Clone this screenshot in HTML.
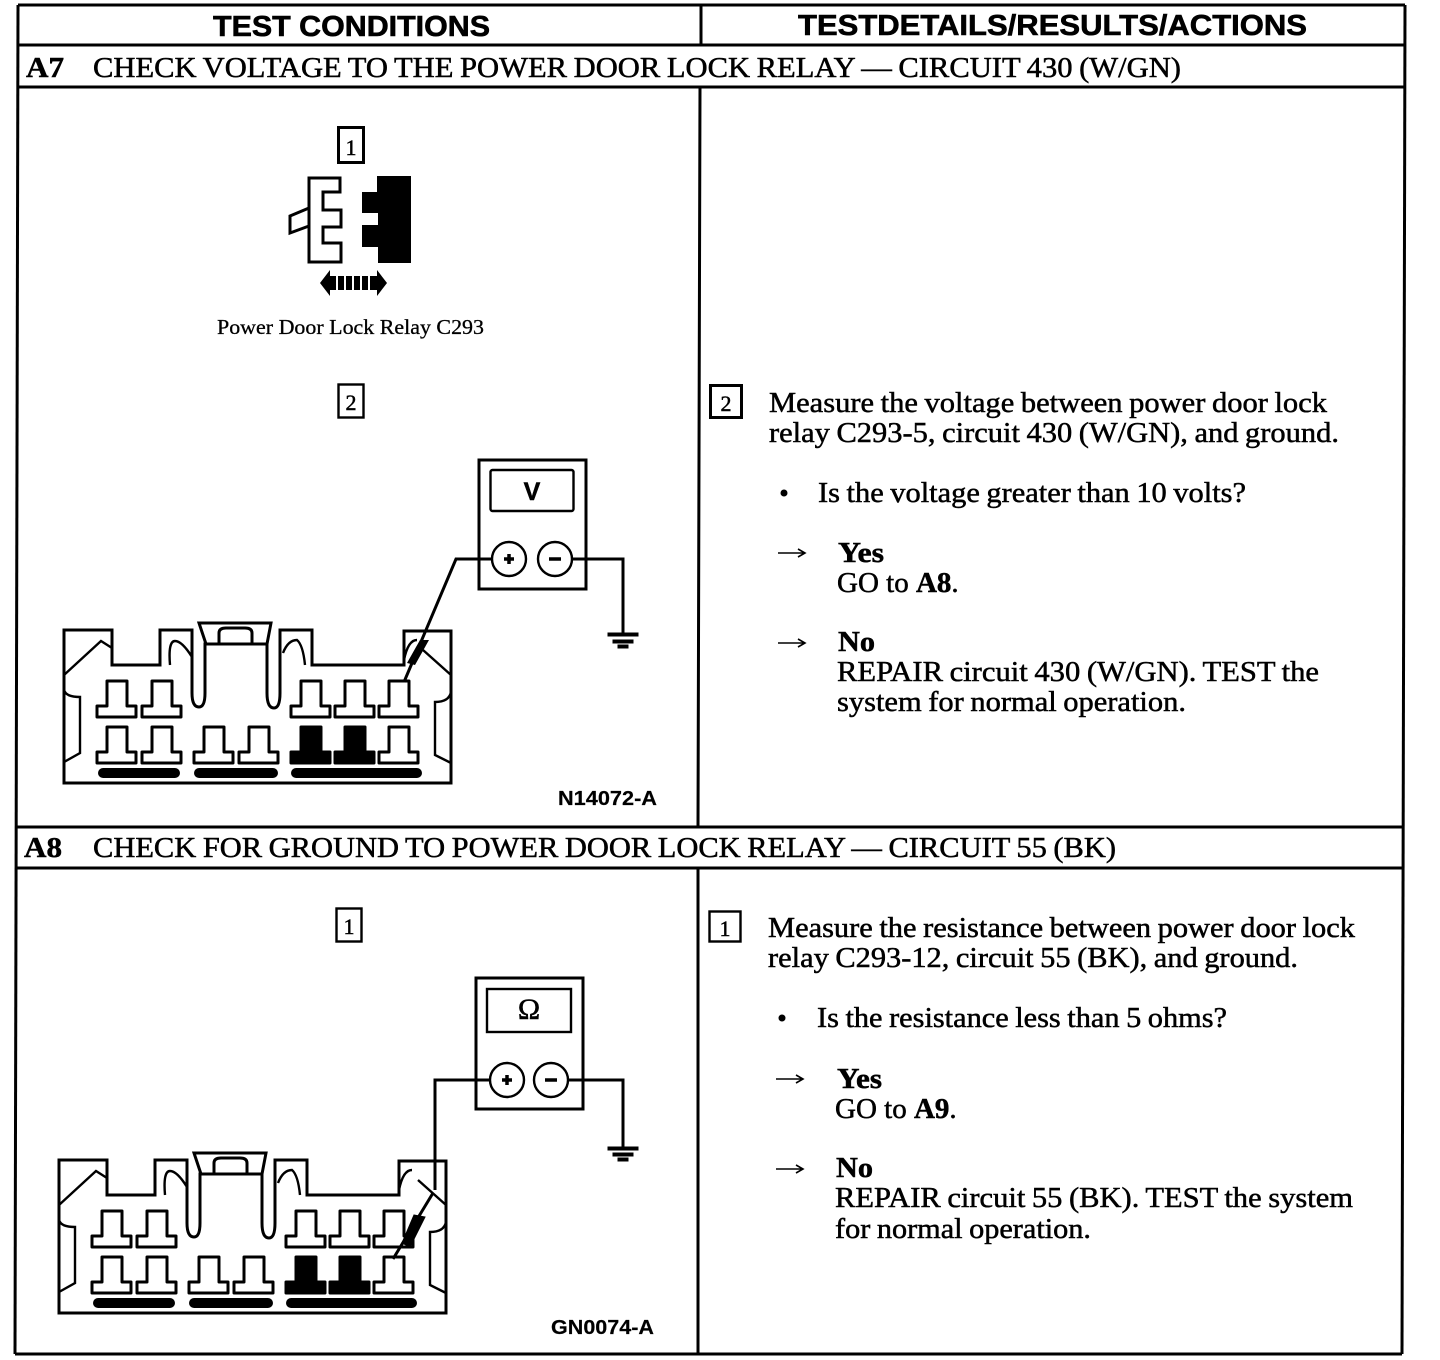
<!DOCTYPE html>
<html><head><meta charset="utf-8"><style>
html,body{margin:0;padding:0;background:#fff}
svg{display:block}
text{fill:#000;font-family:"Liberation Serif",serif;stroke:#000;stroke-width:.5px}
.h{font-family:"Liberation Sans",sans-serif;font-weight:700;font-size:29px;stroke-width:.6px}
.s{font-size:29px;word-spacing:-1px}
.b{font-size:29px;font-weight:700}
.t{font-size:29px;word-spacing:-1px}
.c{font-family:"Liberation Sans",sans-serif;font-weight:700;font-size:20px;stroke-width:.2px}
.v{font-family:"Liberation Sans",sans-serif;font-weight:700;font-size:25px}
.d{font-size:22px}
.l{fill:none;stroke:#000;stroke-width:3}
.m{fill:none;stroke:#000;stroke-width:2.4}
.a{fill:none;stroke:#000;stroke-width:1.6}
.p{fill:#fff;stroke:#000;stroke-width:3;stroke-linejoin:round}
.f{fill:#000;stroke:#000;stroke-width:3;stroke-linejoin:round}
</style></head><body>
<svg width="1440" height="1360" viewBox="0 0 1440 1360" xmlns="http://www.w3.org/2000/svg">
<defs>
<path id="pin" d="M10 0H30V25H39V36H0V25H10Z"/>
<g id="conn">
<path class="l" d="M64 630H112V665H160V630H192V693Q192 707 199 707Q205 707 205 693V644H267V693Q267 708 274 708Q280 708 280 693V630H312V665H404V631H451V783H64Z"/>
<path class="l" d="M206 644L199 623H271L267 644M219 644V633Q219 628 226 628H245Q252 628 252 633V644"/>
<path class="m" d="M64 675L101 641L112 648M170 665Q168 641 175 641Q182 641 192 657M283 653Q288 640 297 640Q303 645 305 665M451 675L423 650M404 660Q408 640 417 640"/>
<path class="m" d="M64 690Q66 697 80 697V753L64 762M451 692Q449 702 435 702V755L451 763"/>
<use href="#pin" class="p" x="97" y="681"/><use href="#pin" class="p" x="142" y="681"/>
<use href="#pin" class="p" x="291" y="681"/><use href="#pin" class="p" x="335" y="681"/><use href="#pin" class="p" x="379" y="681"/>
<use href="#pin" class="p" x="97" y="727"/><use href="#pin" class="p" x="142" y="727"/>
<use href="#pin" class="p" x="194" y="727"/><use href="#pin" class="p" x="239" y="727"/>
<use href="#pin" class="f" x="291" y="727"/><use href="#pin" class="f" x="335" y="727"/><use href="#pin" class="p" x="379" y="727"/>
<rect x="98" y="768" width="82" height="10" rx="5"/><rect x="194" y="768" width="84" height="10" rx="5"/><rect x="291" y="768" width="131" height="10" rx="5"/>
</g>
</defs>

<!-- table -->
<g fill="none" stroke="#000" stroke-width="3">
<path d="M18 5H1405"/><path d="M18 45H1405"/><path d="M18 87H1404"/>
<path d="M16 827H1403"/><path d="M16 868H1403"/><path d="M15 1354H1402"/>
<path d="M18 5L15 1354"/><path d="M1405 5L1402 1354"/>
<path d="M701 5V45M700 87L698 827M698 868V1354"/>
</g>

<text class="h" x="213" y="36" textLength="277" lengthAdjust="spacingAndGlyphs">TEST CONDITIONS</text>
<text class="h" x="798" y="35" textLength="509" lengthAdjust="spacingAndGlyphs">TESTDETAILS/RESULTS/ACTIONS</text>

<text class="b" x="26" y="77" textLength="38" lengthAdjust="spacingAndGlyphs">A7</text>
<text class="s" x="93" y="77" textLength="1088" lengthAdjust="spacingAndGlyphs">CHECK VOLTAGE TO THE POWER DOOR LOCK RELAY — CIRCUIT 430 (W/GN)</text>
<text class="b" x="24" y="857" textLength="38" lengthAdjust="spacingAndGlyphs">A8</text>
<text class="s" x="93" y="857" textLength="1023" lengthAdjust="spacingAndGlyphs">CHECK FOR GROUND TO POWER DOOR LOCK RELAY — CIRCUIT 55 (BK)</text>

<!-- A7 left -->
<rect x="338.500" y="127.500" width="25" height="35" class="l"/>
<text class="d" x="351" y="155" text-anchor="middle">1</text>
<path class="l" d="M309 178H340V192H323V210H341V227H323V243H341V262H309Z"/>
<path class="l" d="M309 208L290 216V233L309 226"/>
<path d="M377 176H411V263H378V247H362V225H378V213H362V192H377Z"/>
<path d="M320 283L330 270V296ZM387 283L377 270V296Z"/>
<rect x="330" y="276" width="6" height="14"/><rect x="338" y="276" width="6" height="14"/><rect x="346" y="276" width="6" height="14"/><rect x="354" y="276" width="6" height="14"/><rect x="362" y="276" width="6" height="14"/><rect x="370" y="276" width="7" height="14"/>
<text x="217" y="334" font-size="21" textLength="267" lengthAdjust="spacingAndGlyphs" style="stroke-width:.3px">Power Door Lock Relay C293</text>

<rect x="338.500" y="384.500" width="25" height="33" class="m"/>
<text class="d" x="351" y="410" text-anchor="middle">2</text>

<use href="#conn"/>
<rect x="479" y="460" width="107" height="129" class="l"/>
<rect x="490.500" y="470" width="83" height="41" rx="2" class="m"/>
<text class="v" x="532" y="500" text-anchor="middle">V</text>
<circle cx="509" cy="559" r="17" class="m"/><circle cx="555" cy="559" r="17" class="m"/>
<path d="M504 559H514M509 554V564M549 559H561" stroke="#000" stroke-width="3.500"/>
<path class="l" d="M492 559H456L404 682"/>
<path class="l" d="M572 559H623V633"/>
<path d="M608 633H638V636H608ZM613 640H633V643H613ZM618 645H628V648H618Z" stroke="#000"/>
<path d="M420 640L429 640L415 665L407 663Z"/>
<text class="c" x="558" y="805" textLength="99" lengthAdjust="spacingAndGlyphs">N14072-A</text>

<!-- A7 right -->
<rect x="710.500" y="385.500" width="31" height="32" class="l"/>
<text class="d" x="726" y="411" text-anchor="middle">2</text>
<text class="t" x="769" y="412" textLength="558" lengthAdjust="spacingAndGlyphs">Measure the voltage between power door lock</text>
<text class="t" x="769" y="442" textLength="570" lengthAdjust="spacingAndGlyphs">relay C293-5, circuit 430 (W/GN), and ground.</text>
<circle cx="784" cy="493" r="3.500"/>
<text class="t" x="818" y="502" textLength="428" lengthAdjust="spacingAndGlyphs">Is the voltage greater than 10 volts?</text>
<path class="a" d="M778 553H804M798 549L805 553L798 557"/>
<text class="b" x="838" y="562" textLength="46" lengthAdjust="spacingAndGlyphs">Yes</text>
<text class="t" x="837" y="592" style="word-spacing:0">GO to <tspan font-weight="700">A8</tspan>.</text>
<path class="a" d="M778 643H804M798 639L805 643L798 647"/>
<text class="b" x="838" y="651" textLength="37" lengthAdjust="spacingAndGlyphs">No</text>
<text class="t" x="837" y="681" textLength="482" lengthAdjust="spacingAndGlyphs">REPAIR circuit 430 (W/GN). TEST the</text>
<text class="t" x="837" y="711" textLength="349" lengthAdjust="spacingAndGlyphs">system for normal operation.</text>

<!-- A8 left -->
<rect x="336.500" y="908.500" width="25" height="33" class="m"/>
<text class="d" x="349" y="934" text-anchor="middle">1</text>
<use href="#conn" x="-5" y="530"/>
<rect x="476" y="978" width="107" height="131" class="l"/>
<rect x="487" y="989" width="84" height="43" class="m"/>
<text x="529" y="1019" font-size="30" text-anchor="middle">Ω</text>
<circle cx="507" cy="1080" r="17" class="m"/><circle cx="551" cy="1080" r="17" class="m"/>
<path d="M502 1080H512M507 1075V1085M545 1080H557" stroke="#000" stroke-width="3.500"/>
<path class="l" d="M490 1080H435V1190"/>
<path class="l" d="M568 1080H623V1147"/>
<path d="M608 1147H638V1150H608ZM613 1153H633V1156H613ZM618 1158H628V1161H618Z" stroke="#000"/>
<path class="l" d="M433 1193L393 1259"/>
<path d="M414 1215L425 1217L410 1247L402 1243Z" stroke="#000"/>
<text class="c" x="551" y="1334" textLength="103" lengthAdjust="spacingAndGlyphs">GN0074-A</text>

<!-- A8 right -->
<rect x="709.500" y="911.500" width="31" height="30" class="m"/>
<text class="d" x="725" y="936" text-anchor="middle">1</text>
<text class="t" x="768" y="937" textLength="587" lengthAdjust="spacingAndGlyphs">Measure the resistance between power door lock</text>
<text class="t" x="768" y="967" textLength="530" lengthAdjust="spacingAndGlyphs">relay C293-12, circuit 55 (BK), and ground.</text>
<circle cx="782" cy="1018" r="3.500"/>
<text class="t" x="817" y="1027" textLength="410" lengthAdjust="spacingAndGlyphs">Is the resistance less than 5 ohms?</text>
<path class="a" d="M776 1079H802M796 1075L803 1079L796 1083"/>
<text class="b" x="837" y="1088" textLength="45" lengthAdjust="spacingAndGlyphs">Yes</text>
<text class="t" x="835" y="1118" style="word-spacing:0">GO to <tspan font-weight="700">A9</tspan>.</text>
<path class="a" d="M776 1169H802M796 1165L803 1169L796 1173"/>
<text class="b" x="836" y="1177" textLength="37" lengthAdjust="spacingAndGlyphs">No</text>
<text class="t" x="835" y="1207" textLength="518" lengthAdjust="spacingAndGlyphs">REPAIR circuit 55 (BK). TEST the system</text>
<text class="t" x="835" y="1238" textLength="256" lengthAdjust="spacingAndGlyphs">for normal operation.</text>
</svg>
</body></html>
